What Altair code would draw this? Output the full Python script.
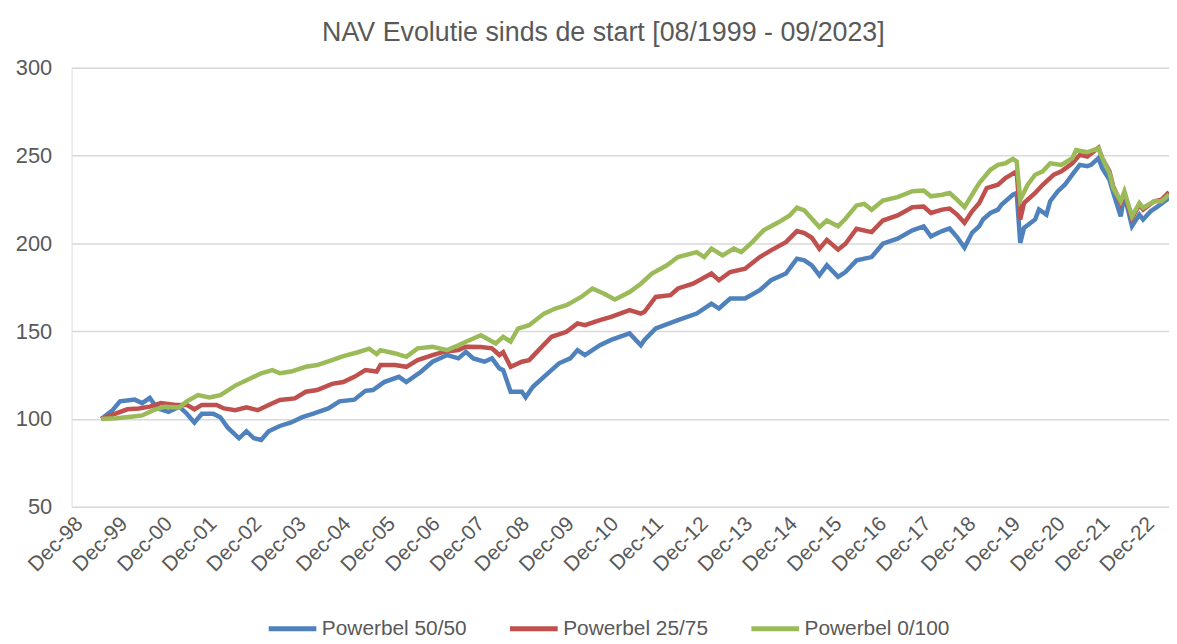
import altair as alt
import pandas as pd

TITLE = "NAV Evolutie  sinds de start [08/1999 - 09/2023]"
SERIES = ["Powerbel 50/50", "Powerbel 25/75", "Powerbel 0/100"]
COLORS = ["#4F81BD", "#C0504D", "#9BBB59"]
Y_TICKS = [50, 100, 150, 200, 250, 300]
X_TICK_YEARS = list(range(1998, 2023))

blue_dates = ["1999-08", "1999-11", "2000-01", "2000-05", "2000-07", "2000-09", "2000-11", "2001-02", "2001-05", "2001-07",
              "2001-09", "2001-11", "2002-02", "2002-04", "2002-06", "2002-09", "2002-11", "2003-01", "2003-03", "2003-05",
              "2003-08", "2003-11", "2004-02", "2004-05", "2004-09", "2004-12", "2005-04", "2005-07", "2005-09", "2005-12",
              "2006-04", "2006-06", "2006-10", "2007-01", "2007-05", "2007-08", "2007-10", "2007-12", "2008-03", "2008-05",
              "2008-07", "2008-08", "2008-10", "2009-01", "2009-02", "2009-04", "2009-08", "2009-11", "2010-02", "2010-04",
              "2010-06", "2010-10", "2011-01", "2011-06", "2011-09", "2011-10", "2012-01", "2012-07", "2012-12", "2013-04",
              "2013-06", "2013-09", "2014-01", "2014-05", "2014-08", "2014-12", "2015-03", "2015-05", "2015-07", "2015-09",
              "2015-11", "2016-02", "2016-04", "2016-07", "2016-11", "2017-02", "2017-06", "2017-10", "2018-01", "2018-03",
              "2018-06", "2018-08", "2018-10", "2018-12", "2019-02", "2019-04", "2019-05", "2019-07", "2019-09", "2019-10",
              "2020-01", "2020-02", "2020-03", "2020-04", "2020-07", "2020-08", "2020-10", "2020-11", "2021-01", "2021-03",
              "2021-05", "2021-07", "2021-09", "2021-10", "2021-12", "2022-01", "2022-03", "2022-04", "2022-06", "2022-07",
              "2022-09", "2022-11", "2022-12", "2023-02", "2023-04", "2023-07"]
blue_vals = [100, 105, 110, 111, 109, 112, 106, 104, 107, 103,
             98, 103, 103, 101, 95, 89, 93, 89, 88, 93,
             96, 98, 101, 103, 106, 110, 111, 116, 116.5, 121,
             124, 121, 127, 132.6, 136.4, 134.5, 138.2, 134.5, 132.6, 134.5,
             128.8, 127.8, 115.5, 115.5, 112.3, 118.3, 126, 131.7, 134.5, 139.2,
             136.4, 142, 145, 148.7, 142, 145, 151.5, 156.3, 160, 165.7,
             162.9, 168.6, 168.6, 173.3, 179, 182.8, 191.3, 190.3, 187.5, 181.8,
             187.5, 180.9, 183.7, 190.3, 192.2, 199.8, 202.7, 207.4, 209.7, 204,
             207, 208.5, 203.6, 197.5, 206, 209.8, 213.6, 217.3, 219.2, 222.1,
             227.7, 228.7, 200.3, 208.8, 213.6, 219.3, 216.4, 224, 229.6, 233.4,
             239.1, 244.7, 244, 244.7, 248.5, 242.8, 236.2, 228.7, 215.4, 227.7,
             209.8, 216.4, 213.6, 218.3, 221.1, 225.8]

red_dates = ["1999-08", "1999-12", "2000-03", "2000-06", "2000-09", "2000-12", "2001-04", "2001-07", "2001-09", "2001-11",
             "2002-03", "2002-05", "2002-08", "2002-11", "2003-02", "2003-05", "2003-08", "2003-12", "2004-03", "2004-06",
             "2004-10", "2005-01", "2005-04", "2005-07", "2005-10", "2005-11", "2006-03", "2006-06", "2006-09", "2007-01",
             "2007-04", "2007-08", "2007-10", "2008-02", "2008-05", "2008-07", "2008-08", "2008-10", "2009-01", "2009-03",
             "2009-06", "2009-09", "2010-01", "2010-04", "2010-06", "2010-10", "2011-01", "2011-06", "2011-09", "2011-10",
             "2012-01", "2012-05", "2012-07", "2012-11", "2013-04", "2013-06", "2013-09", "2014-01", "2014-05", "2014-08",
             "2014-12", "2015-03", "2015-05", "2015-07", "2015-09", "2015-11", "2016-02", "2016-04", "2016-07", "2016-11",
             "2017-02", "2017-06", "2017-10", "2018-01", "2018-03", "2018-06", "2018-08", "2018-10", "2018-12", "2019-02",
             "2019-04", "2019-06", "2019-09", "2019-11", "2020-02", "2020-03", "2020-04", "2020-07", "2020-09", "2020-12",
             "2021-02", "2021-05", "2021-07", "2021-09", "2021-12", "2022-01", "2022-03", "2022-04", "2022-06", "2022-07",
             "2022-09", "2022-11", "2022-12", "2023-03", "2023-05", "2023-07"]
red_vals = [100, 103.2, 105.5, 106, 107, 109, 108, 108, 105.5, 108,
            108, 106, 105, 106.6, 105, 108, 110.8, 111.7, 115.5, 116.5,
            120, 121, 124, 127.8, 127, 130.7, 130.7, 129.7, 133.5, 136.4,
            138.2, 139.2, 141.1, 141, 140.2, 136.4, 138, 129.7, 132.6, 133.5,
            140.2, 146.8, 149.6, 154.4, 153.4, 156.3, 158.1, 162, 160, 161,
            169.5, 170.5, 174.3, 177, 182.8, 179, 183.7, 185.6, 192.2, 196,
            200.7, 207, 205.8, 203.2, 196.9, 202, 196.4, 199.8, 208.3, 206.4,
            213, 215.9, 220.6, 221, 217.3, 219.2, 219.8, 216.4, 211.7, 218.3,
            223, 231.5, 233.4, 237.2, 241, 213.6, 223, 228.7, 233.4, 239.1,
            241, 245.6, 250.4, 249.4, 254.5, 248.5, 241, 232.4, 223, 228.7,
            214.2, 222.1, 219.2, 224, 224.9, 229.2]

green_dates = ["1999-08", "1999-12", "2000-04", "2000-07", "2000-10", "2001-01", "2001-05", "2001-07", "2001-10", "2002-01",
               "2002-04", "2002-08", "2002-12", "2003-03", "2003-06", "2003-08", "2003-11", "2004-03", "2004-06", "2004-10",
               "2005-01", "2005-05", "2005-08", "2005-10", "2005-11", "2006-03", "2006-06", "2006-09", "2007-01", "2007-05",
               "2007-08", "2007-10", "2008-02", "2008-06", "2008-08", "2008-10", "2008-12", "2009-03", "2009-07", "2009-10",
               "2010-01", "2010-05", "2010-08", "2010-11", "2011-02", "2011-06", "2011-09", "2011-12", "2012-04", "2012-07",
               "2012-12", "2013-02", "2013-04", "2013-07", "2013-10", "2013-12", "2014-03", "2014-06", "2014-10", "2015-01",
               "2015-03", "2015-05", "2015-07", "2015-09", "2015-11", "2016-02", "2016-04", "2016-07", "2016-09", "2016-11",
               "2017-02", "2017-06", "2017-10", "2018-01", "2018-03", "2018-06", "2018-08", "2018-10", "2018-12", "2019-02",
               "2019-04", "2019-07", "2019-09", "2019-11", "2020-01", "2020-02", "2020-03", "2020-05", "2020-07", "2020-09",
               "2020-11", "2021-02", "2021-05", "2021-06", "2021-09", "2021-12", "2022-01", "2022-03", "2022-04", "2022-06",
               "2022-07", "2022-09", "2022-11", "2022-12", "2023-03", "2023-05", "2023-07"]
green_vals = [100, 100.4, 101.3, 102, 105, 107, 106.6, 110, 113.6, 112.3,
              113.6, 119, 123, 126, 127.8, 126, 127, 129.7, 130.7, 133.5,
              135.8, 138, 140, 137, 139.2, 137.3, 135.4, 140.2, 141.1, 139.2,
              142, 144, 147.7, 143, 146.8, 144, 151.5, 153.4, 160, 162.9,
              164.8, 169.5, 174.3, 171.4, 168, 172.3, 177, 182.8, 187.5, 192.2,
              195, 192.2, 197, 193.2, 197, 195, 200.7, 207.4, 212, 215.9,
              220.3, 218.8, 214, 209.3, 213, 209.7, 214, 221.6, 222.5, 219.1,
              224.4, 226.3, 229.7, 230.1, 226.8, 227.7, 228.7, 224.9, 220.6, 227.7,
              234.3, 241.9, 244.7, 245.6, 248.1, 246.6, 224.9, 233.4, 239.1, 241,
              245.6, 244.7, 248.5, 253.2, 251.9, 254.2, 248.5, 240, 231.5, 224,
              229.6, 215.4, 223, 220.2, 224, 224, 227.7]

FONT = "Liberation Sans, Arial, sans-serif"
GREY = "#595959"

frames = []
for name, dates, vals in [(SERIES[0], blue_dates, blue_vals),
                          (SERIES[1], red_dates, red_vals),
                          (SERIES[2], green_dates, green_vals)]:
    frames.append(pd.DataFrame({"date": [d + "-01" for d in dates], "nav": vals, "fonds": name}))
df = pd.concat(frames, ignore_index=True)

x_values = [alt.DateTime(year=y, month=12, date=1) for y in X_TICK_YEARS]

chart = alt.Chart(df).mark_line(strokeWidth=4.5, clip=True).encode(
    x=alt.X("date:T",
            scale=alt.Scale(domain=[alt.DateTime(year=1998, month=12, date=1),
                                    alt.DateTime(year=2023, month=7, date=1)]),
            axis=alt.Axis(values=x_values, format="%b-%y", labelAngle=-45, grid=False, ticks=False,
                          domain=False, labelFontSize=21, labelFont=FONT, labelColor=GREY,
                          labelOverlap=False, labelFlush=False, labelPadding=6, title=None)),
    y=alt.Y("nav:Q", scale=alt.Scale(domain=[50, 300], nice=False, zero=False),
            axis=alt.Axis(values=Y_TICKS, grid=True, gridColor="#D9D9D9", gridWidth=1.5, ticks=False,
                          domain=False, labelFontSize=22, labelFont=FONT, labelColor=GREY,
                          labelPadding=20, title=None)),
    color=alt.Color("fonds:N", scale=alt.Scale(domain=SERIES, range=COLORS),
                    legend=alt.Legend(orient="none", legendX=196, legendY=538, direction="horizontal",
                                      symbolType="stroke", symbolSize=2304, symbolStrokeWidth=5,
                                      labelFontSize=21, labelFont=FONT, labelColor=GREY, labelLimit=300,
                                      labelOffset=3, columnPadding=33, padding=0, title=None)),
    detail="fonds:N",
).properties(
    width=1105, height=442,
    title=alt.TitleParams(text=TITLE, fontSize=27, font=FONT, color=GREY, fontWeight="normal",
                          anchor="middle", dx=-17, offset=10),
    autosize=alt.AutoSizeParams(type="none"),
    padding={"left": 64, "top": 58, "right": 0, "bottom": 134},
).configure_view(stroke=None).configure(background="white")

chart.save("out.html", embed_options={"renderer": "svg", "actions": False})
